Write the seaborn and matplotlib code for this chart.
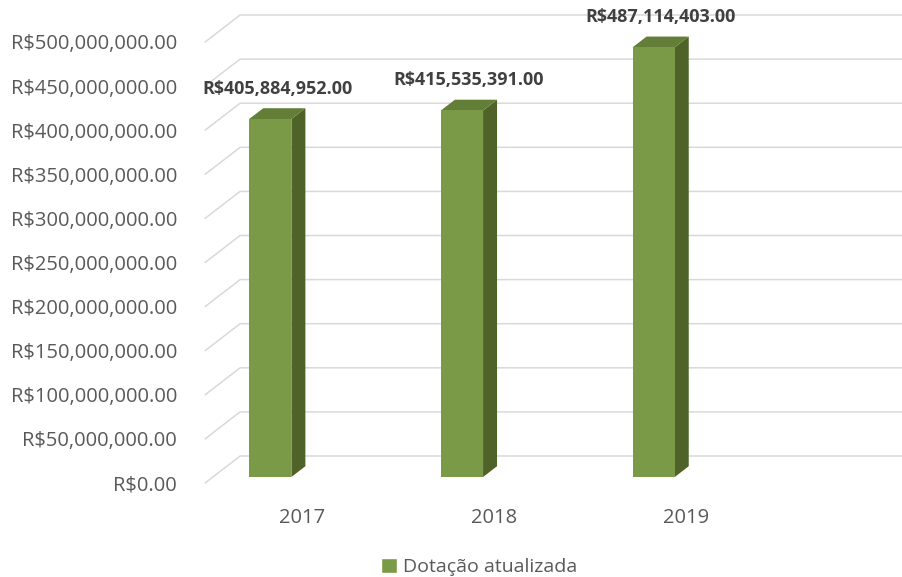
import numpy as np
import pandas as pd
import seaborn as sns
import matplotlib.pyplot as plt
from matplotlib.patches import Polygon, Patch
from matplotlib.transforms import ScaledTranslation, IdentityTransform

# dados
anos = ['2017', '2018', '2019']
dotacao = [405884952.00, 415535391.00, 487114403.00]
serie = 'Dotação atualizada'
ticks_y = [0, 50e6, 100e6, 150e6, 200e6, 250e6, 300e6, 350e6, 400e6, 450e6, 500e6]

# cores (estilo Excel 3D)
cor_frente = '#7A9A48'
cor_lado = '#4F6228'
cor_topo = '#637E37'
cor_grade = '#D9D9D9'
cor_texto = '#595959'

sns.set_style('white')
plt.rcParams['font.family'] = ['Open Sans', 'DejaVu Sans']

fig = plt.figure(figsize=(9.03, 5.77), dpi=100)
# eixo = plano da face frontal das barras
ax = fig.add_axes([212.8 / 903, 100 / 577, (876 - 212.8) / 903, 441 / 577])

df = pd.DataFrame({'Ano': anos, 'Dotacao': dotacao})
sns.barplot(data=df, x='Ano', y='Dotacao', color=cor_frente, saturation=1,
            width=0.22, ax=ax, zorder=3, edgecolor='none', linewidth=0)
ax.set_xlim(-0.3, 3.16)
ax.set_ylim(0, 500e6)
ax.set_xlabel('')
ax.set_ylabel('')
sns.despine(ax=ax, left=True, bottom=True)

# deslocamentos da "profundidade" (pixels de tela)
frente = np.array([-7.7, -6.0])   # plano frontal (rotulos do eixo y)
fundo = np.array([27.3, 21.0])    # parede do fundo
prof_barra = np.array([14.0, 10.8])

ident = IdentityTransform()
td = ax.transData

# grade: parede do fundo + diagonais na lateral esquerda
x0, x1 = ax.get_xlim()
for v in ticks_y:
    pe = td.transform((x0, v))
    pd_ = td.transform((x1, v))
    a = pe + frente
    b = pe + fundo
    c = pd_ + fundo
    ax.plot([a[0], b[0], c[0]], [a[1], b[1], c[1]], color=cor_grade, lw=1.1,
            transform=ident, clip_on=False, zorder=1)

# faces lateral e superior das barras
for p in ax.patches:
    bx, bw, bh = p.get_x(), p.get_width(), p.get_height()
    tl = td.transform((bx, bh))
    tr = td.transform((bx + bw, bh))
    br = td.transform((bx + bw, 0))
    lado = Polygon([br, tr, tr + prof_barra, br + prof_barra], closed=True,
                   facecolor=cor_lado, edgecolor='none', transform=ident, zorder=2)
    topo = Polygon([tl, tr, tr + prof_barra, tl + prof_barra], closed=True,
                   facecolor=cor_topo, edgecolor='none', transform=ident, zorder=2)
    ax.add_patch(lado)
    ax.add_patch(topo)

# rotulos de dados
for i, v in enumerate(dotacao):
    ax.annotate(f'R${v:,.2f}', xy=(i, v), xytext=(7 * 0.72, 30 * 0.72),
                textcoords='offset points', ha='center', va='center',
                fontsize=13, fontweight='bold', color='#404040')

# eixo y
ax.set_yticks(ticks_y)
ax.set_yticklabels([f'R${v:,.2f}' for v in ticks_y])
ax.tick_params(axis='y', length=0, pad=25.8, labelsize=14.5, labelcolor=cor_texto)
for lab in ax.get_yticklabels():
    lab.set_transform(lab.get_transform() + ScaledTranslation(0, -6 / 100, fig.dpi_scale_trans))

# eixo x
ax.tick_params(axis='x', length=0, pad=22, labelsize=14.5, labelcolor=cor_texto)
for lab in ax.get_xticklabels():
    lab.set_transform(lab.get_transform() + ScaledTranslation(32 / 100, 0, fig.dpi_scale_trans))

# legenda
fig.legend(handles=[Patch(facecolor=cor_frente, label=serie)], loc='center',
           bbox_to_anchor=(479 / 903, 1 - 567 / 577), frameon=False, fontsize=14,
           handlelength=0.8, handleheight=0.8, handletextpad=0.3,
           labelcolor=cor_texto)

fig.savefig('out.png', dpi=100)
